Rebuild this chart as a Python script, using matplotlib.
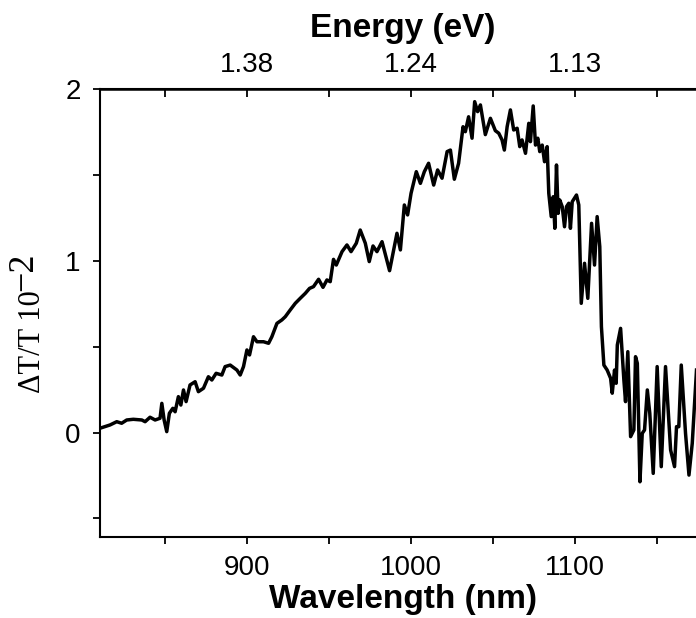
import matplotlib.pyplot as plt
from matplotlib.ticker import FixedLocator, FuncFormatter

plt.rcParams['font.family'] = ['Liberation Sans', 'DejaVu Sans']

# transient transmission spectrum, wavelength in nm, signal in units of 1e-2
wavelength = [
    810.4, 816.5, 820.6, 823.6, 826.7, 830.7, 835.9, 837.9, 840.9, 844.0,
    847.0, 848.1, 849.5, 851.1, 852.7, 854.8, 856.2, 858.2, 859.7, 861.3,
    862.9, 865.3, 868.4, 870.4, 873.5, 876.5, 878.6, 881.2, 884.7, 886.7,
    889.8, 893.9, 895.9, 897.9, 900.0, 901.6, 904.0, 906.1, 910.1, 913.2,
    915.2, 918.3, 921.3, 923.4, 926.4, 929.5, 932.5, 935.6, 938.2, 940.6,
    943.7, 946.4, 948.8, 950.8, 952.8, 954.5, 958.0, 961.0, 963.5, 966.7,
    969.1, 972.2, 974.6, 976.9, 979.3, 982.4, 987.0, 991.5, 993.6, 996.0,
    998.0, 1000.1, 1003.3, 1005.8, 1008.2, 1010.8, 1013.9, 1016.3, 1019.0, 1022.1,
    1024.1, 1026.5, 1029.1, 1031.8, 1033.2, 1035.2, 1037.3, 1038.9, 1040.7, 1042.4,
    1045.4, 1048.5, 1051.5, 1053.6, 1055.6, 1057.0, 1058.7, 1060.7, 1062.7, 1064.8,
    1066.4, 1067.8, 1069.9, 1071.9, 1072.9, 1074.6, 1076.0, 1077.4, 1078.6, 1080.1,
    1081.5, 1083.1, 1084.1, 1085.6, 1086.8, 1087.8, 1088.8, 1089.8, 1090.8, 1092.3,
    1093.7, 1094.9, 1096.3, 1097.3, 1098.4, 1101.0, 1102.4, 1103.9, 1105.9, 1107.9,
    1110.2, 1112.0, 1113.6, 1115.2, 1116.2, 1117.7, 1119.7, 1121.8, 1122.8, 1124.2,
    1125.2, 1125.9, 1127.9, 1129.9, 1130.9, 1132.3, 1134.0, 1136.0, 1137.0, 1138.1,
    1139.7, 1141.1, 1142.5, 1144.2, 1145.7, 1147.8, 1150.2, 1152.7, 1155.3, 1158.4,
    1160.8, 1162.0, 1163.4, 1164.9, 1167.5, 1169.6, 1171.6, 1174.2,
]
signal = [
    0.026, 0.045, 0.064, 0.055, 0.074, 0.078, 0.074, 0.064, 0.090, 0.074,
    0.084, 0.171, 0.074, 0.006, 0.113, 0.142, 0.122, 0.210, 0.161, 0.249,
    0.181, 0.278, 0.297, 0.239, 0.259, 0.326, 0.307, 0.346, 0.336, 0.385,
    0.394, 0.365, 0.336, 0.385, 0.482, 0.453, 0.559, 0.530, 0.530, 0.521,
    0.559, 0.637, 0.657, 0.676, 0.715, 0.754, 0.783, 0.812, 0.841, 0.851,
    0.894, 0.847, 0.890, 0.880, 1.010, 0.977, 1.055, 1.094, 1.055, 1.104,
    1.181, 1.104, 0.997, 1.088, 1.055, 1.113, 0.944, 1.162, 1.065, 1.327,
    1.269, 1.395, 1.521, 1.453, 1.521, 1.570, 1.443, 1.531, 1.483, 1.638,
    1.647, 1.477, 1.570, 1.783, 1.754, 1.841, 1.716, 1.929, 1.871, 1.910,
    1.737, 1.832, 1.760, 1.745, 1.706, 1.647, 1.783, 1.881, 1.764, 1.774,
    1.667, 1.706, 1.628, 1.803, 1.696, 1.904, 1.676, 1.716, 1.638, 1.676,
    1.579, 1.667, 1.395, 1.259, 1.375, 1.191, 1.560, 1.278, 1.356, 1.317,
    1.200, 1.317, 1.337, 1.191, 1.346, 1.385, 1.327, 0.754, 0.987, 0.783,
    1.220, 0.977, 1.259, 1.084, 0.618, 0.394, 0.365, 0.317, 0.230, 0.365,
    0.288, 0.511, 0.608, 0.307, 0.181, 0.472, -0.023, 0.016, 0.443, 0.404,
    -0.286, -0.004, 0.016, 0.249, 0.113, -0.237, 0.385, -0.198, 0.385, -0.101,
    -0.198, 0.035, 0.035, 0.394, -0.004, -0.247, -0.062, 0.365,
]

x_major = [900, 1000, 1100]
x_minor = [850, 950, 1050, 1150]
y_major = [0, 1, 2]
y_minor = [-0.5, 0.5, 1.5]

fig = plt.figure(figsize=(6.96, 6.18), dpi=100)
# axes run a little past the right edge of the figure
ax = fig.add_axes([0.1437, 0.1316, 0.8707, 0.7236])

ax.plot(wavelength, signal, color='black', linewidth=2.5)

ax.set_xlim(810.4, 1180)
ax.set_ylim(-0.606, 2)

for s in ax.spines.values():
    s.set_linewidth(1.5)

ax.xaxis.set_major_locator(FixedLocator(x_major))
ax.xaxis.set_minor_locator(FixedLocator(x_minor))
ax.yaxis.set_major_locator(FixedLocator(y_major))
ax.yaxis.set_minor_locator(FixedLocator(y_minor))
ax.tick_params(which='both', direction='out', length=5, width=1.3,
               top=False, right=False, labelsize=20)
ax.tick_params(axis='x', pad=8)
ax.tick_params(axis='y', pad=9)

ax.set_xlabel('Wavelength (nm)', fontsize=24, fontweight='bold', labelpad=2)

# y label: serif text with a full-size raised exponent
serif = ['Liberation Serif', 'DejaVu Serif']
fig.text(0.047, 0.364, 'ΔT/T 10', rotation=90, fontsize=22, family=serif,
         ha='center', va='bottom')
fig.text(0.034, 0.592, '\u22122', rotation=90, fontsize=26, family=serif,
         ha='center', va='top')

# photon energy axis on top, E = 1240 / lambda
top = ax.secondary_xaxis('top')
top.xaxis.set_major_locator(FixedLocator(x_major))
top.xaxis.set_minor_locator(FixedLocator(x_minor))
top.xaxis.set_major_formatter(FuncFormatter(lambda v, p: f'{1240 / v:.2f}'))
top.tick_params(which='both', direction='in', length=6, width=1.3,
                labelsize=20, pad=8)
top.spines['top'].set_linewidth(1.8)
top.set_xlabel('Energy (eV)', fontsize=24, fontweight='bold', labelpad=11)

fig.savefig('out.png', dpi=100)
